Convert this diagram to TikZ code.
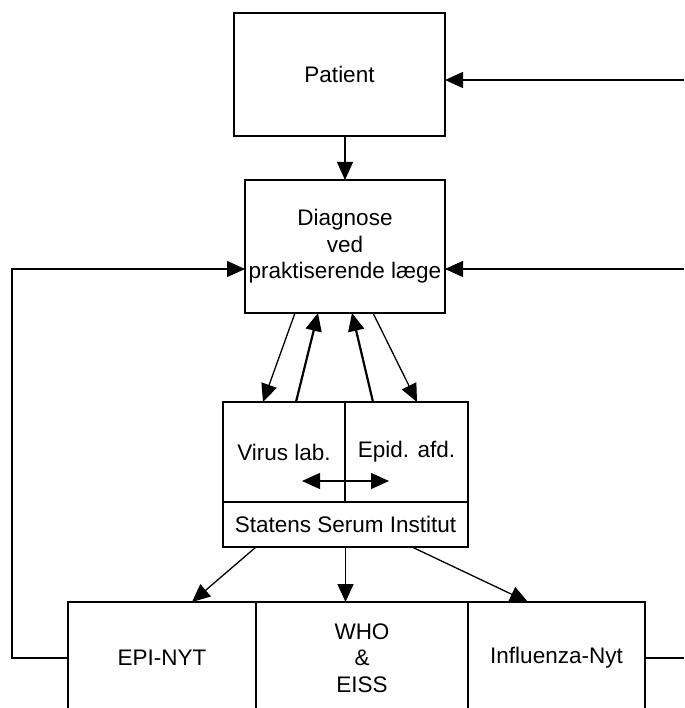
\documentclass[tikz,border=0pt]{standalone}
\usepackage{fontspec}
\setmainfont{Liberation Sans}
\usetikzlibrary{arrows.meta,positioning,calc}

\begin{document}
\begin{tikzpicture}[
    x=1pt, y=-1pt,
    font=\fontsize{22.5}{26.5}\selectfont,
    box/.style={draw, line width=1.3pt, inner sep=0pt, outer sep=0pt, align=center},
    arr/.style={-{Triangle[length=18pt,width=16pt]}, line width=1.3pt},
    barr/.style={arr, line width=2.2pt},
    dblarr/.style={{Triangle[length=18pt,width=16pt]}-{Triangle[length=18pt,width=16pt]}, line width=1.3pt}
  ]
    \clip (0,0) rectangle (684,708);
    \node[box, minimum width=211pt, minimum height=123pt] (pat) at (339.5,74.5) {Patient};
    \node[box, minimum width=200pt, minimum height=133pt] (diag) at (345,246.5) {Diagnose\\ved\\praktiserende læge};

    \node[box, minimum width=122pt, minimum height=100pt] (virus) at (284,452) {Virus lab.};
    \node[box, minimum width=123pt, minimum height=100pt] (epid) at (406.5,452) {Epid. afd.};
    \node[box, minimum width=245pt, minimum height=45pt] (ssi) at (345.5,524.5) {Statens Serum Institut};

    \node[box, minimum width=188pt, minimum height=112pt] (epi) at (162,658) {EPI-NYT};
    \node[box, minimum width=212pt, minimum height=112pt] (who) at (362,658) {WHO\\\&\\EISS};
    \node[box, minimum width=177pt, minimum height=112pt] (infl) at (556.5,658) {Influenza-Nyt};

    % inputs from the right
    \coordinate (inP) at (684,80);
    \coordinate (inD) at (684,269);
    \coordinate (outI) at (684,658);
    \draw[arr] (inP) -- (inP -| pat.east);
    \draw[arr] (inD) -- (inD -| diag.east);
    \draw[arr] (diag.north |- pat.south) -- (diag.north);

    % lab traffic
    \draw[arr] ([xshift=-50pt]diag.south) -- ([xshift=-21pt]virus.north);
    \draw[barr] ([xshift=12pt]virus.north) -- ([xshift=-27pt]diag.south);
    \draw[barr] ([xshift=-33.5pt]epid.north) -- ([xshift=7pt]diag.south);
    \draw[arr] ([xshift=28pt]diag.south) -- ([xshift=10.5pt]epid.north);
    \coordinate (vl) at (302,481);
    \coordinate (ep) at (389,481);
    \draw[dblarr] (vl) -- (ep);

    % reports
    \draw[arr] ([xshift=-89.5pt]ssi.south) -- ([xshift=30pt]epi.north);
    \draw[arr] (ssi.south) -- (ssi.south |- who.north);
    \draw[arr] ([xshift=66.5pt]ssi.south) -- ([xshift=-28.5pt]infl.north);

    % feedback
    \draw[arr] (epi.west) -- ++(-56,0) |- (inD -| diag.west);
    \draw[line width=1.3pt] (infl.east) -- (outI);
\end{tikzpicture}
\end{document}
